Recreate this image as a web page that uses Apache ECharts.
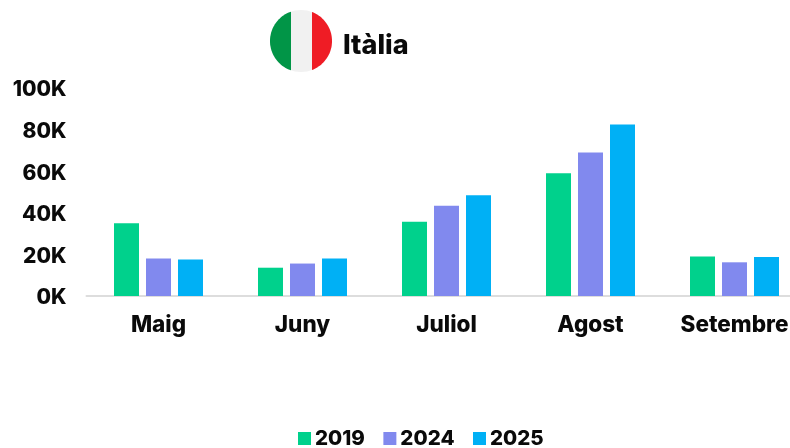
<!DOCTYPE html>
<html><head><meta charset="utf-8">
<style>html,body{margin:0;padding:0;background:#fff}#c{width:790px;height:448px}</style>
<script src="https://cdn.jsdelivr.net/npm/echarts@6/dist/echarts.min.js"></script>
</head><body><div id="c"></div>
<script>
const titleText = 'Itàlia';
const categories = ['Maig','Juny','Juliol','Agost','Setembre'];
const yTicks = [0,20000,40000,60000,80000,100000];
const s2019 = [35000,13600,35700,59000,19000];
const s2024 = [18000,15600,43400,69000,16200];
const s2025 = [17500,18000,48400,82500,18700];
const seriesNames = ['2019','2024','2025'];
const colors = ['#00D18C','#8189EE','#00B0F5'];
const FONT = 'Inter';
const TXT = '#0a0a0a';
const chart = echarts.init(document.getElementById('c'),null,{renderer:'canvas'});
const mk = (name,data,color)=>({name,type:'bar',data,barWidth:25,barGap:'28%',itemStyle:{color},emphasis:{disabled:true}});
function chord(cx,cy,r,dx,side){
  const a=Math.acos(dx/r),pts=[];
  for(let i=0;i<=48;i++){
    const t=-a+2*a*i/48;
    pts.push([cx+side*r*Math.cos(t),cy+r*Math.sin(t)]);
  }
  return pts;
}
chart.setOption({
  animation:false,
  backgroundColor:'#fff',
  textStyle:{fontFamily:FONT},
  title:{text:titleText,left:338,top:27,textStyle:{fontFamily:FONT,fontWeight:800,fontSize:27,color:TXT}},
  legend:{top:423,left:293,itemWidth:13,itemHeight:13,itemGap:18.5,icon:'rect',
    data:seriesNames,textStyle:{fontFamily:FONT,fontWeight:800,fontSize:20.5,color:TXT,padding:[0,0,0,-1]}},
  grid:{left:86.5,width:720,top:88,height:208,containLabel:false,outerBoundsMode:'none'},
  xAxis:{type:'category',data:categories,
    axisLine:{show:true,lineStyle:{color:'#dddddd',width:2}},axisTick:{show:false},
    axisLabel:{interval:0,margin:18,fontFamily:FONT,fontWeight:800,fontSize:22.5,color:TXT,hideOverlap:false}},
  yAxis:{type:'value',min:0,max:100000,interval:20000,
    splitLine:{show:false},axisLine:{show:false},axisTick:{show:false},
    axisLabel:{margin:20,fontFamily:FONT,fontWeight:800,fontSize:21,color:TXT,verticalAlign:'top',lineHeight:4,
      formatter:v=>yTicks.includes(v)?(v/1000)+'K':''}},
  series:[mk(seriesNames[0],s2019,colors[0]),mk(seriesNames[1],s2024,colors[1]),mk(seriesNames[2],s2025,colors[2])],
  graphic:[
    {type:'circle',shape:{cx:301,cy:41,r:31},style:{fill:'#f1f1f1'},silent:true},
    {type:'polygon',shape:{points:chord(301,41,31,10,-1)},style:{fill:'#019547'},silent:true},
    {type:'polygon',shape:{points:chord(301,41,31,11,1)},style:{fill:'#EF1C25'},silent:true}
  ]
});
</script></body></html>
